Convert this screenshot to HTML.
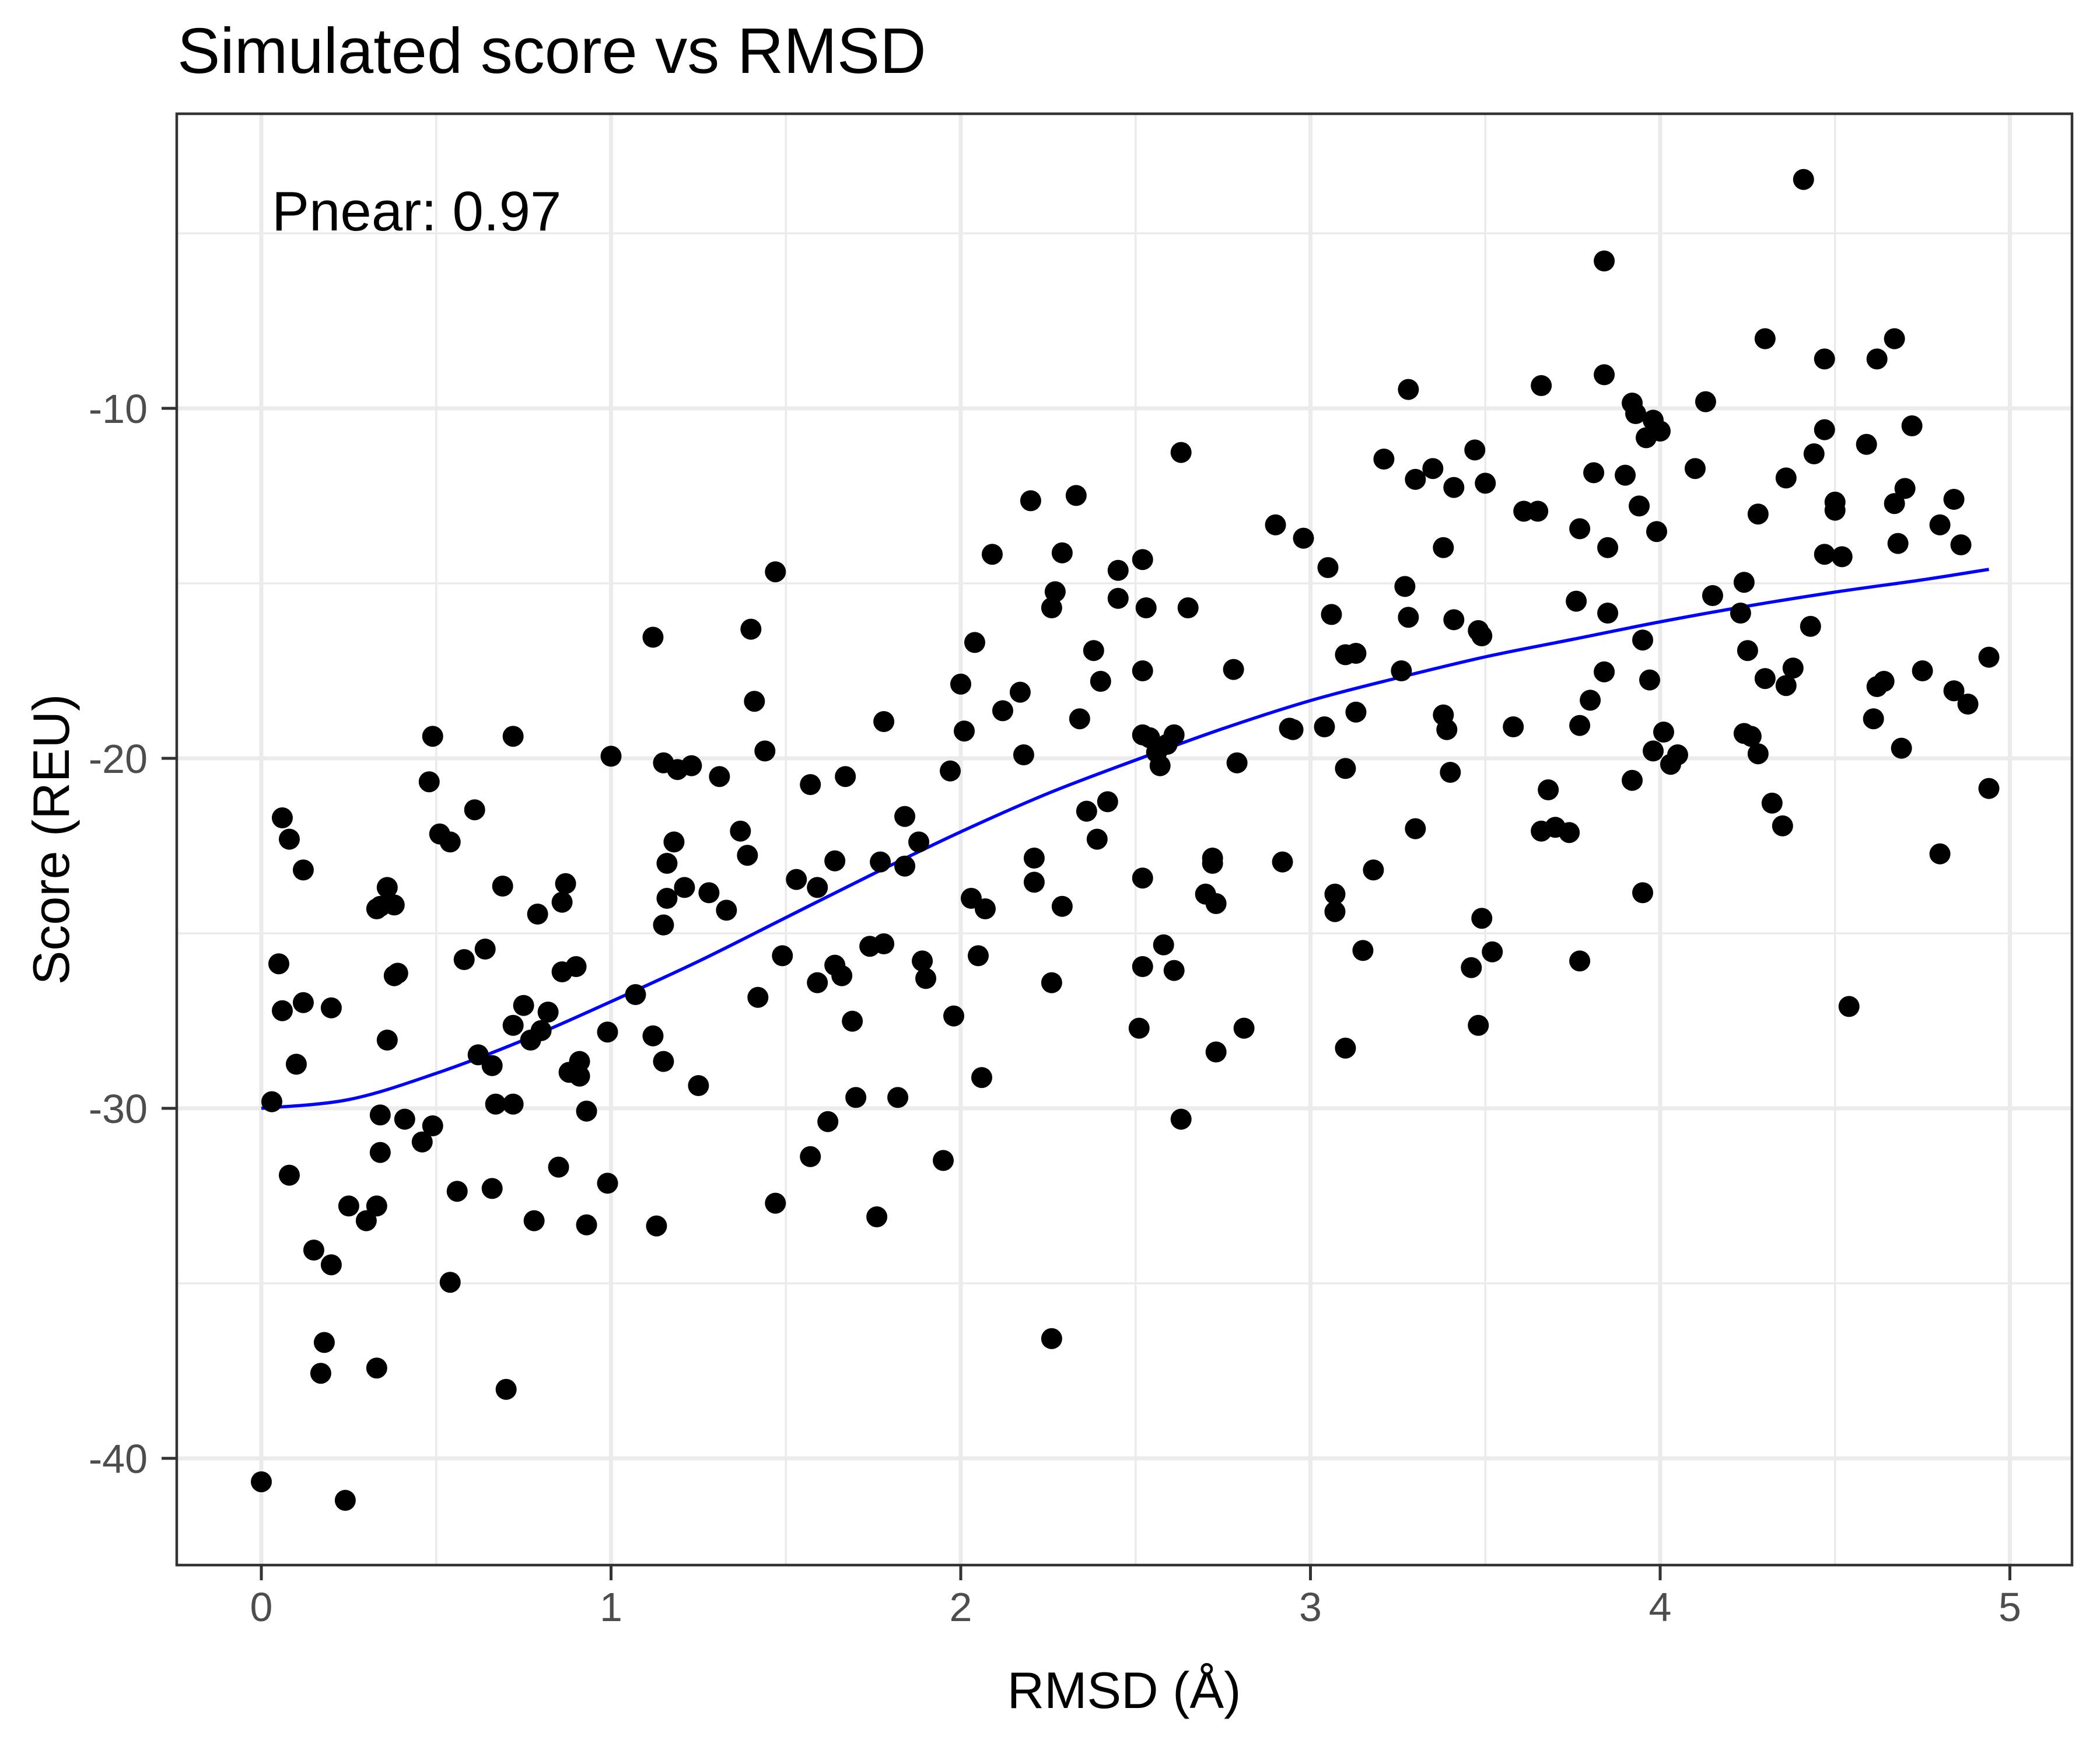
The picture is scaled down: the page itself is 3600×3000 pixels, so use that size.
<!DOCTYPE html>
<html><head><meta charset="utf-8"><style>
html,body{margin:0;padding:0;background:#fff}
svg{display:block;font-family:"Liberation Sans",Arial,sans-serif}
</style></head><body>
<svg id="chart" width="3600" height="3000" viewBox="0 0 3600 3000" xmlns="http://www.w3.org/2000/svg">
<rect x="0" y="0" width="3600" height="3000" fill="#fff"/>
<g id="grid"></g>
<g id="curve"></g>
<g id="points"></g>
<rect x="303" y="195" width="3249" height="2488" fill="none" stroke="#333" stroke-width="4.5"/>
<g id="axes"></g>
<text x="304" y="125" font-size="110" fill="#000">Simulated score vs RMSD</text>
<text x="466" y="395" font-size="96" fill="#000">Pnear: 0.97</text>
<text x="1927" y="2928" font-size="88" text-anchor="middle" fill="#000">RMSD (Å)</text>
<text transform="translate(118,1439) rotate(-90)" font-size="88" text-anchor="middle" fill="#000">Score (REU)</text>
</svg>
<script>
const rmsd = [0.00,0.03,0.05,0.06,0.08,0.06,0.08,0.10,0.12,0.12,0.15,0.17,0.18,0.20,0.20,0.24,0.25,0.30,0.33,0.33,0.33,0.34,0.34,0.34,0.36,0.36,0.38,0.38,0.39,0.41,0.46,0.49,0.48,0.49,0.51,0.54,0.54,0.56,0.58,0.61,0.62,0.64,0.66,0.66,0.67,0.69,0.70,0.72,0.72,0.72,0.75,0.77,0.78,0.79,0.80,0.82,0.85,0.86,0.86,0.87,0.88,0.90,0.91,0.91,0.93,0.93,0.99,0.99,1.00,
1.07,1.12,1.12,1.13,1.15,1.15,1.15,1.16,1.16,1.18,1.19,1.21,1.23,1.25,1.28,1.31,1.33,1.37,1.39,1.40,1.41,1.42,1.44,1.47,1.47,1.49,
1.53,1.57,1.57,1.59,1.59,1.62,1.64,1.64,1.66,1.67,1.69,1.70,1.74,1.76,1.77,1.78,1.78,1.82,1.84,1.84,1.88,1.89,1.90,1.95,1.97,1.98,2.00,2.01,2.03,2.04,2.05,2.06,2.07,2.09,2.12,2.17,2.18,2.20,2.21,2.21,2.26,2.26,2.27,2.26,2.29,2.29,2.33,2.34,2.36,2.38,2.39,2.40,2.42,
2.45,2.45,2.51,2.52,2.52,2.52,2.52,2.52,2.53,2.54,2.56,2.57,2.58,2.59,2.61,2.61,2.63,2.63,2.65,2.70,2.72,2.72,2.73,2.73,2.78,2.79,2.81,2.90,2.92,2.94,2.95,2.98,
3.04,3.05,3.06,3.07,3.07,3.10,3.10,3.10,3.13,3.13,3.15,3.18,3.21,3.26,3.27,3.28,3.28,3.30,3.30,3.35,3.38,3.38,3.39,3.40,3.41,3.41,3.46,3.48,3.47,3.48,3.49,3.49,3.50,3.52,3.58,
3.61,3.65,3.66,3.66,3.68,3.70,3.74,3.76,3.77,3.77,3.77,3.80,3.81,3.84,3.84,3.84,3.85,3.85,3.90,3.92,3.92,3.93,3.94,3.95,3.95,3.96,3.97,3.98,3.98,3.99,4.00,4.01,4.03,4.05,
4.10,4.13,4.15,4.23,4.24,4.24,4.25,4.26,4.28,4.28,4.30,4.30,4.32,4.35,4.36,4.36,4.38,4.41,4.43,4.44,4.47,4.47,4.47,4.50,4.50,4.52,4.54,4.59,4.61,4.62,4.62,4.64,4.67,4.67,4.68,4.69,4.70,4.72,4.75,4.80,4.80,4.84,4.84,4.86,4.88,4.94,4.94];
const score = [-40.67,-29.81,-25.87,-21.70,-22.31,-27.21,-31.91,-28.74,-23.19,-26.98,-34.05,-37.57,-36.69,-27.13,-34.47,-41.20,-32.79,-33.21,-37.42,-24.30,-32.79,-31.26,-30.19,-24.23,-28.05,-23.69,-24.19,-26.21,-26.14,-30.31,-30.96,-30.50,-20.67,-19.37,-22.16,-22.39,-34.97,-32.37,-25.75,-21.47,-28.47,-25.45,-28.78,-32.29,-29.88,-23.65,-38.03,-29.88,-19.37,-27.63,-27.06,-28.05,-33.21,-24.45,-27.78,-27.25,-31.68,-24.11,-26.10,-23.58,-28.97,-25.95,-28.66,-29.08,-30.08,-33.33,-27.82,-32.14,-19.94,
-26.75,-16.54,-27.93,-33.36,-24.76,-28.66,-20.13,-23.00,-24.00,-22.39,-20.32,-23.69,-20.21,-29.35,-23.84,-20.52,-24.34,-22.08,-22.77,-16.31,-18.37,-26.83,-19.79,-14.67,-32.71,-25.64,
-23.46,-20.75,-31.38,-23.69,-26.41,-30.38,-22.93,-25.91,-26.21,-20.52,-27.51,-29.69,-25.37,-33.10,-22.96,-25.30,-18.95,-29.69,-21.66,-23.08,-22.39,-25.79,-26.29,-31.49,-20.36,-27.36,-17.88,-19.22,-24.00,-16.69,-25.64,-29.12,-24.30,-14.17,-18.64,-18.11,-19.90,-12.64,-23.54,-22.85,-26.41,-15.70,-15.24,-36.58,-14.13,-24.23,-12.49,-18.87,-21.51,-16.92,-22.31,-17.80,-21.24,
-14.63,-15.43,-27.71,-19.33,-17.50,-14.32,-23.42,-25.95,-15.70,-19.41,-19.83,-20.21,-25.33,-19.60,-26.06,-19.33,-11.26,-30.31,-15.70,-23.88,-22.85,-23.00,-28.39,-24.15,-17.46,-20.13,-27.71,-13.33,-22.96,-19.14,-19.18,-13.71,
-19.10,-14.55,-15.89,-23.88,-24.38,-17.04,-20.29,-28.28,-17.00,-18.68,-25.49,-23.19,-11.45,-17.50,-15.09,-15.97,-9.46,-22.01,-12.03,-11.72,-13.98,-18.76,-19.18,-20.40,-12.26,-16.04,-25.98,-27.63,-11.19,-16.35,-24.57,-16.50,-12.14,-25.53,-19.10,
-12.94,-12.94,-9.35,-22.08,-20.90,-21.97,-22.12,-15.51,-13.44,-25.79,-19.06,-18.34,-11.84,-5.79,-17.53,-9.04,-13.98,-15.85,-11.91,-20.63,-9.85,-10.15,-12.79,-23.84,-16.62,-10.84,-17.76,-19.79,-10.34,-13.52,-10.65,-19.25,-20.17,-19.90,
-11.72,-9.81,-15.35,-15.85,-19.29,-14.97,-16.92,-19.37,-19.87,-13.02,-8.01,-17.72,-21.28,-21.93,-17.92,-11.99,-17.42,-3.46,-16.23,-11.30,-8.59,-14.17,-10.61,-12.68,-12.91,-14.24,-27.09,-11.03,-18.87,-8.59,-17.95,-17.80,-8.01,-12.72,-13.86,-19.71,-12.29,-10.50,-17.50,-13.33,-22.73,-18.07,-12.60,-13.90,-18.45,-17.11,-20.86];
const fitX = [0,0.25,0.5,0.75,1,1.25,1.5,1.75,2,2.25,2.5,2.75,3,3.25,3.5,3.75,4,4.25,4.5,4.75,4.94];
const fitY = [-30,-29.75,-29.0,-28.05,-26.95,-25.8,-24.55,-23.3,-22.1,-21.0,-20.05,-19.15,-18.35,-17.7,-17.1,-16.6,-16.1,-15.65,-15.25,-14.9,-14.6];
const xTicks = [0,1,2,3,4,5];
const xMinor = [0.5,1.5,2.5,3.5,4.5];
const yTicks = [-10,-20,-30,-40];
const yMinor = [-5,-15,-25,-35];

const NS='http://www.w3.org/2000/svg';
const PL=303,PR=3552,PT=195,PB=2683;
function sx(v){return 448+v*599.5;}
function sy(v){return 700-(v+10)*60;}
function mk(tag,attrs,parent){const e=document.createElementNS(NS,tag);for(const k in attrs)e.setAttribute(k,attrs[k]);parent.appendChild(e);return e;}
const grid=document.getElementById('grid');
xMinor.forEach(v=>{const l=mk('line',{x1:sx(v),x2:sx(v),y1:PT,y2:PB,stroke:'#ebebeb','stroke-width':3.5},grid);

});
yMinor.forEach(v=>{const l=mk('line',{x1:PL,x2:PR,y1:sy(v),y2:sy(v),stroke:'#ebebeb','stroke-width':3.5},grid);

});
xTicks.forEach(v=>{const l=mk('line',{x1:sx(v),x2:sx(v),y1:PT,y2:PB,stroke:'#ebebeb','stroke-width':7},grid);

});
yTicks.forEach(v=>{const l=mk('line',{x1:PL,x2:PR,y1:sy(v),y2:sy(v),stroke:'#ebebeb','stroke-width':7},grid);

});
const cg=document.getElementById('curve');
const P=fitX.map((x,i)=>[sx(x),sy(fitY[i])]);
let d='M'+P[0][0]+','+P[0][1];
for(let i=0;i<P.length-1;i++){const p0=P[Math.max(0,i-1)],p1=P[i],p2=P[i+1],p3=P[Math.min(P.length-1,i+2)];
d+=' C'+(p1[0]+(p2[0]-p0[0])/6)+','+(p1[1]+(p2[1]-p0[1])/6)+' '+(p2[0]-(p3[0]-p1[0])/6)+','+(p2[1]-(p3[1]-p1[1])/6)+' '+p2[0]+','+p2[1];}
const path=mk('path',{d:d,fill:'none',stroke:'#0000ff','stroke-width':5.5,'stroke-linejoin':'round'},cg);


const pg=document.getElementById('points');
rmsd.forEach((x,i)=>{const c=mk('circle',{cx:sx(x),cy:sy(score[i]),r:18,fill:'#000'},pg);

});
const ax=document.getElementById('axes');
xTicks.forEach(v=>{const t=mk('line',{x1:sx(v),x2:sx(v),y1:PB,y2:PB+26,stroke:'#333','stroke-width':5},ax);


const tx=mk('text',{x:sx(v),y:2779,'font-size':70,'text-anchor':'middle',fill:'#4d4d4d'},ax);tx.textContent=String(v);

});
yTicks.forEach(v=>{const t=mk('line',{x1:PL-26,x2:PL,y1:sy(v),y2:sy(v),stroke:'#333','stroke-width':5},ax);


const tx=mk('text',{x:253,y:sy(v)+25,'font-size':70,'text-anchor':'end',fill:'#4d4d4d'},ax);tx.textContent=String(v);

});
</script>
</body></html>
